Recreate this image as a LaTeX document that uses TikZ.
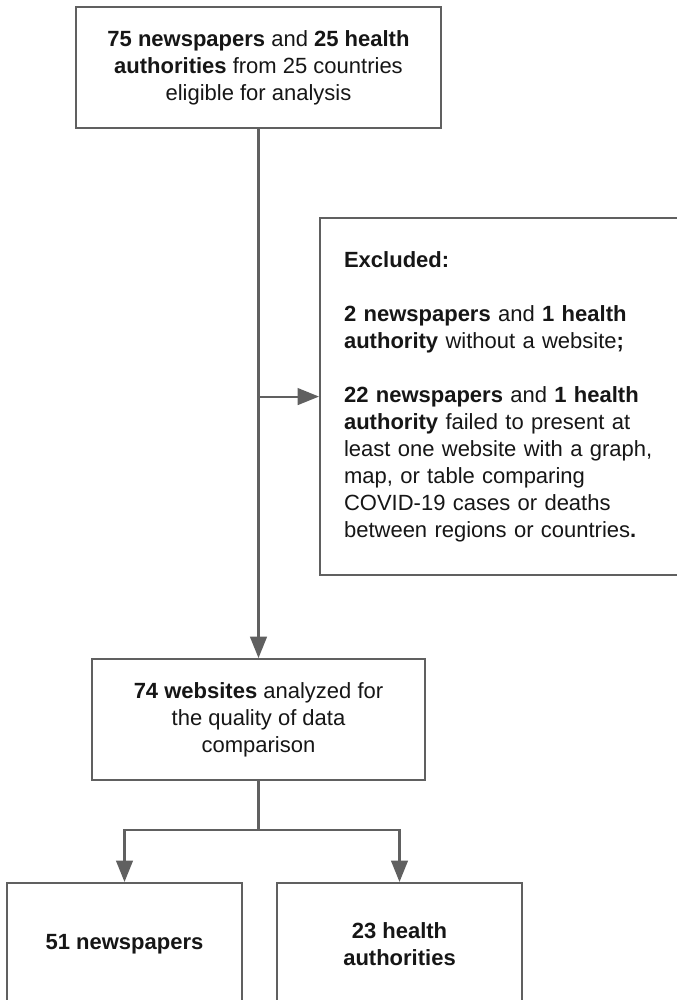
\documentclass[tikz,border=0pt]{standalone}
\usepackage{fontspec}
\setmainfont{Liberation Sans}
\usepackage{xcolor}
\usepackage{tikz}
\usetikzlibrary{positioning, arrows.meta}
\definecolor{linegray}{HTML}{606060}
\definecolor{inkblack}{HTML}{161616}
\tikzset{
    stage/.style={rectangle, draw=linegray, fill=white, line width=1.6pt, align=center, inner sep=0pt, text=inkblack, font=\fontsize{16.5pt}{20.25pt}\selectfont},
    excl/.style={rectangle, draw=linegray, fill=white, line width=1.6pt, align=left, inner xsep=18pt, inner ysep=0pt, text=inkblack, font=\fontsize{16.5pt}{20.25pt}\selectfont},
    flow/.style={draw=linegray, line width=1.6pt},
    flowarr/.style={draw=linegray, line width=1.6pt, -{Triangle[length=16pt, width=12.5pt]}},
}

\begin{document}
\begin{tikzpicture}[x=0.75pt, y=-0.75pt]
    \useasboundingbox (0,0) rectangle (676,1000);
    \node [stage, minimum width=273.75pt, minimum height=90.75pt] (eligible) at (258.5,67.5)
        {\textbf{75 newspapers} and \textbf{25 health}\\\textbf{authorities} from 25 countries\\eligible for analysis};
    \node [stage, minimum width=249.75pt, minimum height=90.75pt] (analyzed) [below=396.75pt of eligible]
        {\textbf{74 websites} analyzed for\\the quality of data\\comparison};
    \node [excl, anchor=north west, text width=245pt, minimum height=267.75pt] (excluded) at (319,217)
        {\textbf{Excluded:}\\[20.25pt]
         \textbf{2 newspapers} and \textbf{1 health}\\\textbf{authority} without a website\textbf{;}\\[20.25pt]
         \textbf{22 newspapers} and \textbf{1 health}\\\textbf{authority} failed to present at\\least one website with a graph,\\map, or table comparing\\COVID-19 cases or deaths\\between regions or countries\textbf{.}};
    \node [stage, minimum width=176.25pt, minimum height=91.5pt] (papers) at (124.5,944) {\textbf{51 newspapers}};
    \node [stage, minimum width=183.75pt, minimum height=91.5pt] (authorities) at (399.5,944) {\textbf{23 health}\\\textbf{authorities}};
    \coordinate (split) at (eligible.south |- excluded.west);
    \coordinate (fork) at (analyzed.south |- 0,830);
    \draw [flowarr] (eligible.south) -- (analyzed.north);
    \draw [flowarr] (split) -- (excluded.west);
    \draw [flow] (analyzed.south) -- (fork);
    \draw [flowarr] (fork) -| (papers.north);
    \draw [flowarr] (fork) -| (authorities.north);
\end{tikzpicture}
\end{document}
